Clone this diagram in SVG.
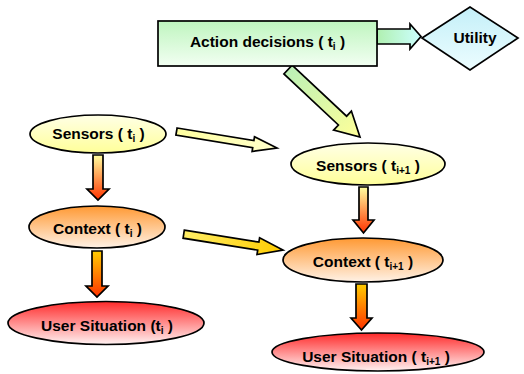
<svg xmlns="http://www.w3.org/2000/svg" width="524" height="374" viewBox="0 0 524 374">
<defs>
<linearGradient id="gBox" x1="0" y1="0" x2="0" y2="1"><stop offset="0" stop-color="#bff5bf"/><stop offset="1" stop-color="#f2fff2"/></linearGradient>
<linearGradient id="gDia" x1="0" y1="0" x2="0" y2="1"><stop offset="0" stop-color="#c4eff8"/><stop offset="1" stop-color="#ecfdff"/></linearGradient>
<linearGradient id="gSen" x1="0" y1="0" x2="0" y2="1"><stop offset="0" stop-color="#ffffe6"/><stop offset="1" stop-color="#ffff99"/></linearGradient>
<linearGradient id="gCtx" x1="0" y1="0" x2="0" y2="1"><stop offset="0" stop-color="#ff9933"/><stop offset="1" stop-color="#fff2e6"/></linearGradient>
<linearGradient id="gUsr" x1="0" y1="0" x2="0" y2="1"><stop offset="0" stop-color="#ff2a2a"/><stop offset="1" stop-color="#fff2f2"/></linearGradient>
<linearGradient id="gSC" x1="0" y1="0" x2="0" y2="1"><stop offset="0" stop-color="#ffffa0"/><stop offset="1" stop-color="#ff3300"/></linearGradient>
<linearGradient id="gCU" x1="0" y1="0" x2="0" y2="1"><stop offset="0" stop-color="#ffcc00"/><stop offset="1" stop-color="#ff3300"/></linearGradient>
<linearGradient id="gDA" x1="0" y1="0" x2="1" y2="1"><stop offset="0" stop-color="#b8f0b8"/><stop offset="1" stop-color="#ffff99"/></linearGradient>
<linearGradient id="gDB" x1="0" y1="0" x2="1" y2="0"><stop offset="0" stop-color="#ffffa0"/><stop offset="1" stop-color="#ffffcc"/></linearGradient>
<linearGradient id="gDC" x1="0" y1="0" x2="1" y2="0"><stop offset="0" stop-color="#ffee66"/><stop offset="1" stop-color="#ffcc00"/></linearGradient>
<linearGradient id="gR" x1="0" y1="0" x2="1" y2="0"><stop offset="0" stop-color="#b0f0b0"/><stop offset="1" stop-color="#ccffff"/></linearGradient>
</defs>
<style>
.s{stroke:#000;stroke-width:1.7;stroke-linejoin:miter}
.t{font-family:"Liberation Sans",Arial,sans-serif;font-weight:bold;font-size:15.5px;fill:#000;text-anchor:middle}
.sub{font-size:10px}
</style>
<g id="connectors">
<polygon class="s" fill="url(#gR)" points="377,29 410,29 410,24 421,36.5 410,49 410,44 377,44"/>
<polygon class="s" fill="url(#gDA)" points="292.1,65.1 346.6,116.2 351.4,111.1 360,137 333.6,130.1 338.4,125 283.9,73.9"/>
<polygon class="s" fill="url(#gDB)" points="177.1,128 253.9,140.6 254.5,136.7 277,148 252.1,151.5 252.7,147.6 175.9,135"/>
<polygon class="s" fill="url(#gDC)" points="184.3,230.2 258.9,242.1 259.6,237.7 283,250 257,254.5 257.7,250.1 183.1,238.2"/>
<polygon class="s" fill="url(#gSC)" points="93,155 103,155 103,189 109,189 98,200 87,189 93,189"/>
<polygon class="s" fill="url(#gCU)" points="92,251 102,251 102,286 108,286 97,297 86,286 92,286"/>
<polygon class="s" fill="url(#gSC)" points="359,187 368,187 368,220 374,220 363.5,233 353,220 359,220"/>
<polygon class="s" fill="url(#gCU)" points="356,284 367,284 367,318 372,318 361.5,330 351,318 356,318"/>
</g>
<g id="action">
<rect class="s" fill="url(#gBox)" x="158" y="21" width="219" height="45"/>
<text class="t" x="267.5" y="47">Action decisions ( t<tspan class="sub" dy="3">i</tspan><tspan dy="-3"> )</tspan></text>
</g>
<g id="utility">
<polygon class="s" fill="url(#gDia)" points="422,38 470,7 518,38 470,70"/>
<text class="t" x="475" y="43">Utility</text>
</g>
<g id="sensors-ti">
<ellipse class="s" fill="url(#gSen)" cx="98" cy="134" rx="68" ry="19"/>
<text class="t" x="98.5" y="139">Sensors ( t<tspan class="sub" dy="3">i</tspan><tspan dy="-3"> )</tspan></text>
</g>
<g id="context-ti">
<ellipse class="s" fill="url(#gCtx)" cx="97" cy="227" rx="68" ry="21"/>
<text class="t" x="97.5" y="234">Context ( t<tspan class="sub" dy="3">i</tspan><tspan dy="-3"> )</tspan></text>
</g>
<g id="user-ti">
<ellipse class="s" fill="url(#gUsr)" cx="106" cy="323" rx="98" ry="21.5"/>
<text class="t" x="107" y="331">User Situation (t<tspan class="sub" dy="3">i</tspan><tspan dy="-3"> )</tspan></text>
</g>
<g id="sensors-ti1">
<ellipse class="s" fill="url(#gSen)" cx="368" cy="164" rx="77" ry="21"/>
<text class="t" x="368" y="171">Sensors ( t<tspan class="sub" dy="3">i+1</tspan><tspan dy="-3"> )</tspan></text>
</g>
<g id="context-ti1">
<ellipse class="s" fill="url(#gCtx)" cx="363" cy="260" rx="80" ry="22"/>
<text class="t" x="363" y="267">Context ( t<tspan class="sub" dy="3">i+1</tspan><tspan dy="-3"> )</tspan></text>
</g>
<g id="user-ti1">
<ellipse class="s" fill="url(#gUsr)" cx="378" cy="352" rx="106" ry="19"/>
<text class="t" x="376" y="362">User Situation ( t<tspan class="sub" dy="3">i+1</tspan><tspan dy="-3"> )</tspan></text>
</g>
</svg>
